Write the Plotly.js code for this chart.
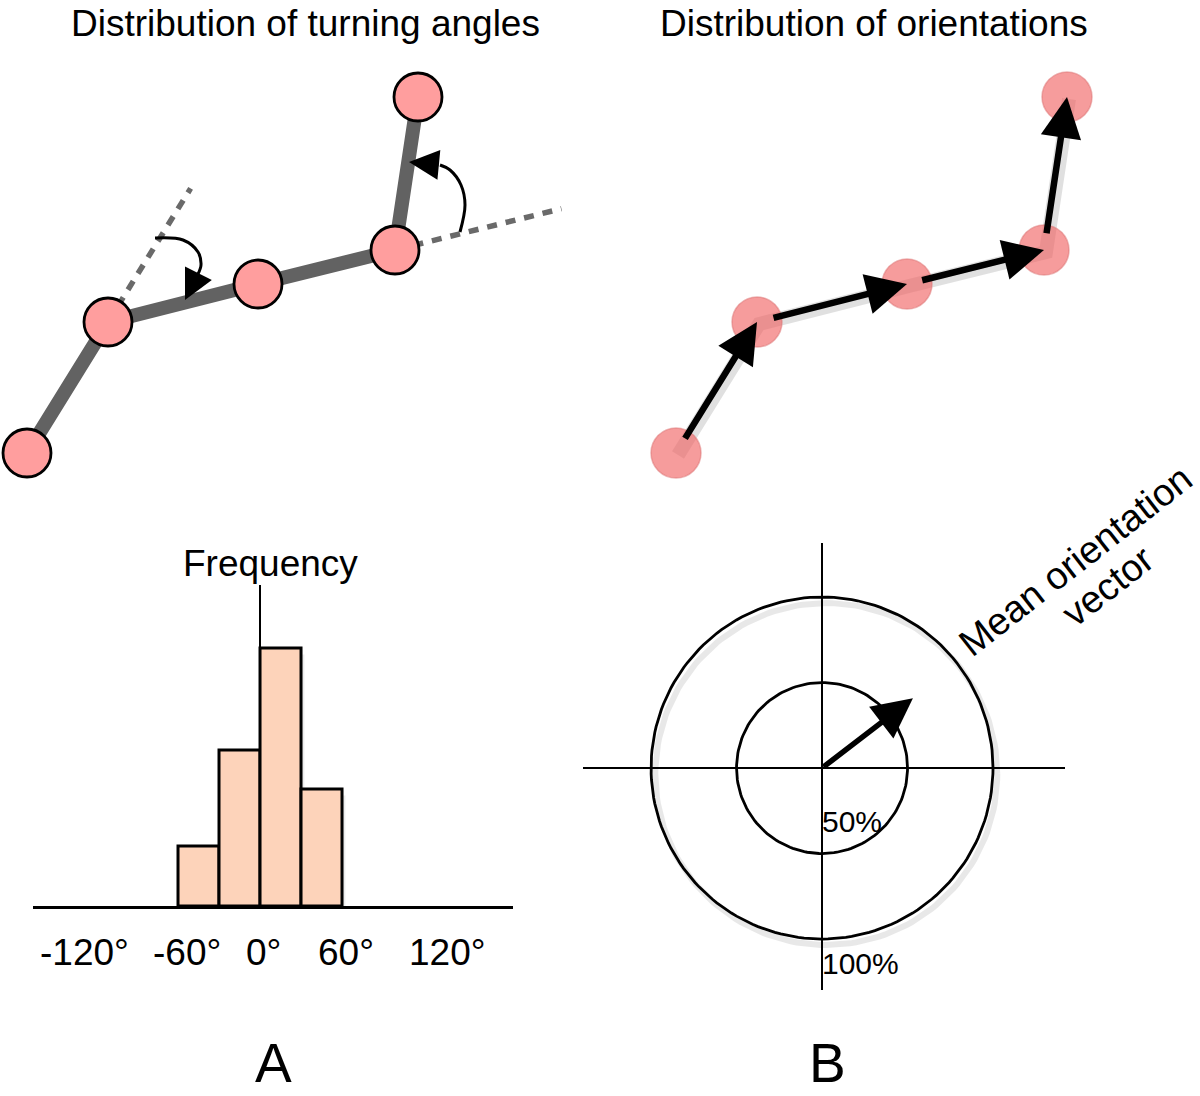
<!DOCTYPE html>
<html><head><meta charset="utf-8">
<script src="https://cdn.plot.ly/plotly-3.0.1.min.js"></script>
<style>html,body{margin:0;padding:0;background:#fff}</style>
</head><body><div id="chart" style="width:1200px;height:1096px"></div>
<script>
// ---- Data -------------------------------------------------------------
// Track of the moving object (same track drawn in panels A and B)
const trackX = [0, 81, 231, 368, 391];
const trackY = [0, 131, 169, 203, 356];

// Curved turning-angle arrows in panel A (track units)
const turnArc1X = [128, 156, 171, 174, 171];
const turnArc1Y = [215, 213, 201, 188, 179];
const turnArc1Tip = [158, 153];
const turnArc2X = [433, 438, 434, 423, 413];
const turnArc2Y = [221, 248, 268, 283, 288];
const turnArc2Tip = [382, 291];

// Histogram of turning angles
const angleBins = [-45, -15, 15, 45];
const angleFreq = [6.0, 15.6, 25.8, 11.7];
const angleTicks = [-120, -60, 0, 60, 120];
const angleTickText = ['-120°', '-60°', '0°', '60°', '120°'];

// Orientation diagram
const ringLevels = [50, 100];
const ringLabels = ['50%', '100%'];
const meanAngleDeg = 37.5;
const meanLength = 67;

// ---- Helpers ----------------------------------------------------------
const W = 1200, H = 1096;
const px = x => x / W;
const py = y => 1 - y / H;
const FONT = 'Liberation Sans, Arial, Helvetica, sans-serif';

function extend(i0, i1, t) {
  return [trackX[i1] + t * (trackX[i1] - trackX[i0]),
          trackY[i1] + t * (trackY[i1] - trackY[i0])];
}
const ext1 = extend(0, 1, 1.02);
const ext2 = extend(2, 3, 1.215);

function ring(r, dx, dy) {
  const xs = [], ys = [];
  for (let k = 0; k <= 360; k += 2) {
    const a = k * Math.PI / 180;
    xs.push(r * Math.cos(a) + (dx || 0));
    ys.push(r * Math.sin(a) + (dy || 0));
  }
  return {xs, ys};
}

const traces = [];

// Panel A: dashed extension lines
traces.push({
  x: [trackX[1], ext1[0], null, trackX[3], ext2[0]],
  y: [trackY[1], ext1[1], null, trackY[3], ext2[1]],
  xaxis: 'x', yaxis: 'y', mode: 'lines', cliponaxis: false,
  line: {color: '#6a6a6a', width: 5.5, dash: '10px,9px'}, hoverinfo: 'skip'
});
// Panel A: segments
traces.push({
  x: trackX, y: trackY, xaxis: 'x', yaxis: 'y', mode: 'lines', cliponaxis: false,
  line: {color: '#626262', width: 14}, hoverinfo: 'skip'
});
// Panel A: nodes
traces.push({
  x: trackX, y: trackY, xaxis: 'x', yaxis: 'y', mode: 'markers', cliponaxis: false,
  marker: {size: 48, color: '#FF9E9E', line: {color: '#000', width: 2.8}}, hoverinfo: 'skip'
});
// Panel A: turning arcs
traces.push({
  x: turnArc1X, y: turnArc1Y, xaxis: 'x', yaxis: 'y', mode: 'lines', cliponaxis: false,
  line: {color: '#000', width: 3, shape: 'spline'}, hoverinfo: 'skip'
});
traces.push({
  x: turnArc2X, y: turnArc2Y, xaxis: 'x', yaxis: 'y', mode: 'lines', cliponaxis: false,
  line: {color: '#000', width: 3, shape: 'spline'}, hoverinfo: 'skip'
});

// Panel B: shadow line + translucent nodes
traces.push({
  x: trackX.map(v => v + 2), y: trackY.map(v => v - 2), xaxis: 'x2', yaxis: 'y', mode: 'lines', cliponaxis: false,
  line: {color: 'rgba(0,0,0,0.12)', width: 14}, hoverinfo: 'skip'
});
traces.push({
  x: trackX, y: trackY, xaxis: 'x2', yaxis: 'y', mode: 'markers', cliponaxis: false,
  marker: {size: 50, color: 'rgba(240,95,95,0.62)', line: {color: 'rgba(220,110,110,0.5)', width: 1.5}},
  hoverinfo: 'skip'
});

// Histogram (soft shadow + bars)
traces.push({
  type: 'bar', x: angleBins.map(v => v + 2.5), y: angleFreq.map(v => v - 0.3), base: -0.35, width: 30,
  xaxis: 'x3', yaxis: 'y3', marker: {color: 'rgba(0,0,0,0.07)', line: {width: 0}}, hoverinfo: 'skip'
});
traces.push({
  type: 'bar', x: angleBins, y: angleFreq, width: 30, xaxis: 'x3', yaxis: 'y3',
  marker: {color: '#FDD3BA', line: {color: '#000', width: 3}}, hoverinfo: 'skip'
});

// Orientation rings
const outerShadow = ring(ringLevels[1], 2.5, -3.5);
traces.push({
  x: outerShadow.xs, y: outerShadow.ys, xaxis: 'x4', yaxis: 'y4', mode: 'lines',
  line: {color: 'rgba(0,0,0,0.09)', width: 6}, hoverinfo: 'skip'
});
ringLevels.forEach(r => {
  const c = ring(r);
  traces.push({
    x: c.xs, y: c.ys, xaxis: 'x4', yaxis: 'y4', mode: 'lines', cliponaxis: false,
    line: {color: '#000', width: 2.8}, hoverinfo: 'skip'
  });
});

// ---- Annotations ------------------------------------------------------
const ann = [];
// Panel B step arrows
for (let i = 0; i < trackX.length - 1; i++) {
  const dx = trackX[i + 1] - trackX[i], dy = trackY[i + 1] - trackY[i];
  ann.push({
    xref: 'x2', yref: 'y', axref: 'x2', ayref: 'y',
    x: trackX[i + 1], y: trackY[i + 1],
    ax: trackX[i] + 0.1 * dx, ay: trackY[i] + 0.1 * dy,
    text: '', showarrow: true, arrowhead: 2, arrowsize: 1.25, arrowwidth: 6.5,
    arrowcolor: '#000', standoff: 0
  });
}
// Turning-arc arrowheads
[[turnArc1X, turnArc1Y, turnArc1Tip], [turnArc2X, turnArc2Y, turnArc2Tip]].forEach(([xs, ys, tip]) => {
  ann.push({
    xref: 'x', yref: 'y', axref: 'x', ayref: 'y',
    x: tip[0], y: tip[1], ax: xs[xs.length - 1], ay: ys[ys.length - 1],
    text: '', showarrow: true, arrowhead: 2, arrowsize: 2.0, arrowwidth: 3,
    arrowcolor: '#000', standoff: 0
  });
});
// Mean orientation vector
const ma = meanAngleDeg * Math.PI / 180;
ann.push({
  xref: 'x4', yref: 'y4', axref: 'x4', ayref: 'y4',
  x: meanLength * Math.cos(ma), y: meanLength * Math.sin(ma), ax: 0, ay: 0,
  text: '', showarrow: true, arrowhead: 2, arrowsize: 1.45, arrowwidth: 5.5,
  arrowcolor: '#000', standoff: 0
});
// Ring labels
ann.push({xref: 'x4', yref: 'y4', x: 0, y: -ringLevels[0], text: ringLabels[0], showarrow: false,
  xanchor: 'left', yanchor: 'bottom', yshift: 14, xshift: -2, font: {family: FONT, size: 30, color: '#000'}});
ann.push({xref: 'x4', yref: 'y4', x: 0, y: -ringLevels[1], text: ringLabels[1], showarrow: false,
  xanchor: 'left', yanchor: 'top', yshift: -6, xshift: -2, font: {family: FONT, size: 30, color: '#000'}});

// Angle tick labels, anchored to their values on the histogram axis
// (nudged sideways as in the original figure so they do not collide)
const tickNudge = [-12, 9, 3, 4, 23];
angleTicks.forEach((v, i) => {
  ann.push({
    xref: 'x3', yref: 'paper', x: v, y: py(952), text: angleTickText[i], showarrow: false,
    xanchor: 'center', yanchor: 'middle', xshift: tickNudge[i],
    font: {family: FONT, size: 37, color: '#000'}
  });
});

// Text labels
const txt = (text, x, y, size, extra) => Object.assign({
  xref: 'paper', yref: 'paper', x: px(x), y: py(y), text: text, showarrow: false,
  xanchor: 'center', yanchor: 'middle', font: {family: FONT, size: size, color: '#000'}
}, extra || {});
ann.push(txt('Distribution of turning angles', 305.5, 23, 37));
ann.push(txt('Distribution of orientations', 873.5, 23, 37));
ann.push(txt('Frequency', 270.5, 563, 37));
ann.push(txt('Mean orientation', 1075, 561, 38, {textangle: -38}));
ann.push(txt('vector', 1108, 586, 38, {textangle: -38}));
ann.push(txt('A', 273.5, 1063, 55));
ann.push(txt('B', 828, 1063, 55));

const hidden = {visible: false, showgrid: false, zeroline: false, fixedrange: true};

const layout = {
  width: W, height: H, margin: {l: 0, r: 0, t: 0, b: 0},
  paper_bgcolor: '#fff', plot_bgcolor: 'rgba(0,0,0,0)', showlegend: false,
  font: {family: FONT, color: '#000'}, barmode: 'overlay',
  xaxis: Object.assign({}, hidden, {domain: [0, 0.5], range: [-27, 573], anchor: 'y'}),
  yaxis: Object.assign({}, hidden, {domain: [py(520), 1], range: [-67, 453], anchor: 'x'}),
  xaxis2: Object.assign({}, hidden, {domain: [0.5, 1], range: [-76, 524], anchor: 'y'}),
  xaxis3: {
    domain: [px(33), px(513)], range: [-166.1, 185.1], anchor: 'y3',
    showline: true, linecolor: '#000', linewidth: 2.5, showgrid: false,
    zeroline: true, zerolinecolor: '#000', zerolinewidth: 2,
    tickmode: 'array', tickvals: angleTicks, showticklabels: false, ticks: '', fixedrange: true
  },
  yaxis3: Object.assign({}, hidden, {domain: [py(906), py(585)], range: [0, 32.1], anchor: 'x3'}),
  xaxis4: {
    domain: [px(583), px(1065)], range: [-139.8, 142.1], anchor: 'y4',
    showgrid: false, showticklabels: false, ticks: '', showline: false,
    zeroline: true, zerolinecolor: '#000', zerolinewidth: 2.2, fixedrange: true
  },
  yaxis4: {
    domain: [py(990), py(543)], range: [-129.8, 131.6], anchor: 'x4',
    showgrid: false, showticklabels: false, ticks: '', showline: false,
    zeroline: true, zerolinecolor: '#000', zerolinewidth: 2.2, fixedrange: true
  },
  annotations: ann
};

Plotly.newPlot('chart', traces, layout, {displayModeBar: false, staticPlot: true});
</script>
</body></html>
